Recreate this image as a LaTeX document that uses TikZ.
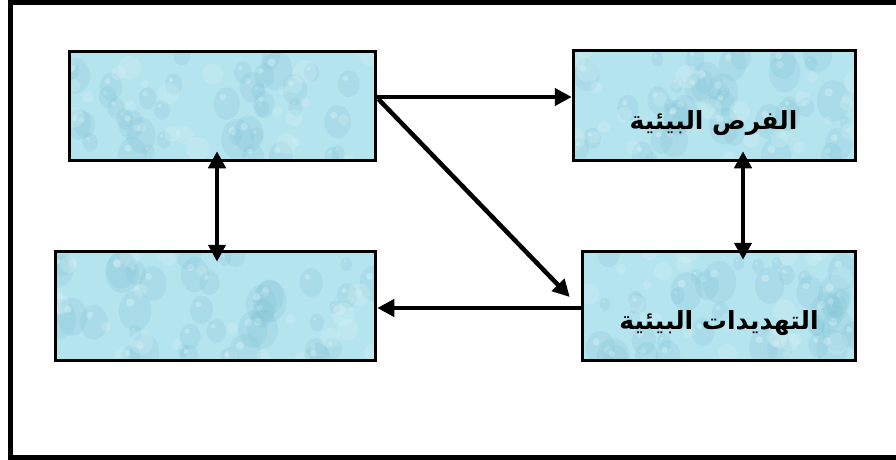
\documentclass[tikz,border=0pt]{standalone}
\usepackage{fontspec}
\TeXXeTstate=1
\newfontfamily\arabicfont[Script=Arabic]{DejaVu Sans}
\usetikzlibrary{arrows.meta,calc}

\definecolor{water}{RGB}{180,228,238}
\definecolor{drop}{RGB}{118,186,206}
\definecolor{shine}{RGB}{226,246,250}

\tikzset{
  % mottled water-drop texture, clipped to the node outline
  droplets/.style={path picture={
    \pgfpointanchor{path picture bounding box}{south west}\pgfgetlastxy{\xa}{\ya}
    \pgfpointanchor{path picture bounding box}{north east}\pgfgetlastxy{\xb}{\yb}
    \pgfmathsetseed{#1}
    \foreach \k in {1,...,40}{
      \pgfmathsetmacro\px{rnd}
      \pgfmathsetmacro\py{rnd}
      \pgfmathsetmacro\pr{5+12*rnd}
      \fill[drop,opacity=0.17]
        ({\xa+\px*(\xb-\xa)},{\ya+\py*(\yb-\ya)})
        ellipse[x radius=\pr pt, y radius={1.25*\pr pt}];
      \fill[shine,opacity=0.35]
        ({\xa+\px*(\xb-\xa)-0.3*\pr pt},{\ya+\py*(\yb-\ya)+0.5*\pr pt})
        circle[radius={0.25*\pr pt}];
    }
    \foreach \k in {1,...,25}{
      \pgfmathsetmacro\px{rnd}
      \pgfmathsetmacro\py{rnd}
      \pgfmathsetmacro\pr{4+8*rnd}
      \fill[shine,opacity=0.22]
        ({\xa+\px*(\xb-\xa)},{\ya+\py*(\yb-\ya)}) circle[radius=\pr pt];
    }
  }},
  panel/.style={draw=black, line width=3.5pt, fill=water, inner sep=0pt},
  caption/.style={inner sep=0pt, text=black,
    font=\arabicfont\bfseries\fontsize{25}{30}\selectfont},
  link/.style={line width=4.5pt, -{Triangle[length=17pt,width=17pt]}},
  twoway/.style={line width=4.5pt,
    {Triangle[length=17pt,width=17pt]}-{Triangle[length=17pt,width=17pt]}},
}

\begin{document}
\begin{tikzpicture}[x=1pt,y=-1pt]
  \useasboundingbox (0,0) rectangle (896,460);
  \fill[white] (0,0) rectangle (896,460);

  % outer frame (runs past the right edge of the page)
  \draw[line width=5pt] (10.5,2.5) rectangle (920,457);

  % boxes
  \node[panel, droplets=11, minimum width=306pt, minimum height=109pt] (A) at (222.5,106) {};
  \node[panel, droplets=23, minimum width=320pt, minimum height=109pt] (B) at (215.5,306) {};
  \node[panel, droplets=37, minimum width=282pt, minimum height=110pt] (C) at (714.5,105.5) {};
  \node[panel, droplets=51, minimum width=273pt, minimum height=109pt] (D) at (719,306) {};

  \node[caption] (Ct) at ($(C.center)+(-1,18)$) {\beginR الفرص البيئية\endR};
  \node[caption] (Dt) at ($(D.center)+(0,17)$) {\beginR التهديدات البيئية\endR};

  % connector end points
  \coordinate (acS) at ($(A.east)+(0,-9)$);
  \coordinate (adS) at ($(A.east)+(1,-7)$);
  \coordinate (adE) at ($(D.west)+(-11,-9)$);
  \coordinate (dbS) at ($(D.west)+(0,2)$);
  \coordinate (abT) at ($(A.south)+(-5.5,-11)$);
  \coordinate (abB) at ($(B.north)+(1.5,12)$);
  \coordinate (cdT) at ($(C.south)+(28.5,-11)$);
  \coordinate (cdB) at ($(D.north)+(24,10)$);

  % connectors
  \draw[link] (acS) -- (acS -| C.west);
  \draw[link] (adS) -- (adE);
  \draw[link] (dbS) -- (dbS -| B.east);
  \draw[twoway] (abT) -- (abB);
  \draw[twoway] (cdT) -- (cdB);
\end{tikzpicture}
\end{document}
